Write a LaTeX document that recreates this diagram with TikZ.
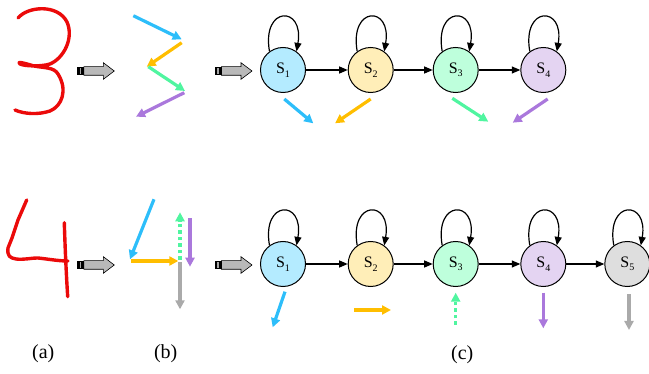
\documentclass[tikz,border=0pt]{standalone}
\usepackage{fontspec}
\setmainfont{Liberation Serif}
\usetikzlibrary{arrows.meta}
\definecolor{ccyan}{RGB}{45,190,250}
\definecolor{corange}{RGB}{255,190,0}
\definecolor{cgreen}{RGB}{80,245,160}
\definecolor{cpurple}{RGB}{170,120,220}
\definecolor{cgray}{RGB}{170,170,170}
\definecolor{fblue}{RGB}{180,235,255}
\definecolor{fyellow}{RGB}{255,238,184}
\definecolor{fgreen}{RGB}{190,255,220}
\definecolor{fpurple}{RGB}{228,212,242}
\definecolor{fgray}{RGB}{222,222,222}
\definecolor{cred}{RGB}{235,10,10}
\newcommand{\sublab}[2]{S\raisebox{-3.5pt}{\fontsize{10}{10}\selectfont #2}}
\tikzset{
  state/.style={circle, draw, line width=1pt, minimum size=45pt, inner sep=0pt, font=\fontsize{16}{16}\selectfont},
  conn/.style={line width=1.2pt, -{Triangle[length=8.5pt,width=7pt]}},
  stroke/.style={line width=3.2pt, -{Triangle[length=9pt,width=9pt]}},
  dotstroke/.style={stroke, dash pattern=on 3.5pt off 3pt},
  digit/.style={cred, line width=3.4pt, line cap=round, line join=round},
  blockarrow/.style={fill=gray!55, draw=black, line width=0.6pt},
  caption/.style={font=\fontsize{20}{20}\selectfont}
}
\newcommand{\blockarr}[2]{%
  \filldraw[blockarrow] (#1+6.5,#2-4.3) -- (#1+26,#2-4.3) -- (#1+26,#2-8.3) -- (#1+37,#2) -- (#1+26,#2+8.3) -- (#1+26,#2+4.3) -- (#1+6.5,#2+4.3) -- cycle;
  \fill[black] (#1,#2-4.3) rectangle (#1+6.5,#2+4.3);
  \fill[gray!70] (#1+2.4,#2-3.3) rectangle (#1+4,#2+3.3);
}
\begin{document}
\begin{tikzpicture}[x=1pt,y=-1pt]
\useasboundingbox (0,0) rectangle (649,374);

% ---------- (a) digits ----------
\draw[digit] (18,18) .. controls (28,6) and (58,4) .. (67,22)
  .. controls (74,38) and (64,58) .. (50,64)
  .. controls (40,67) and (24,66) .. (20,64)
  .. controls (16,61) and (24,63) .. (34,66)
  .. controls (44,68) and (54,67) .. (58,74)
  .. controls (68,90) and (62,106) .. (50,111)
  .. controls (38,115) and (24,114) .. (15,110);
\draw[digit] (26.7,200) -- (18,220) -- (12,238) -- (8,248) .. controls (7,256) and (10,258) .. (16,259)
  .. controls (24,260) and (30,258) .. (38,258) .. controls (48,259) and (58,261) .. (68,261);
\draw[digit] (64.3,222.7) .. controls (65,245) and (66,270) .. (67.7,296.7);

% ---------- block arrows ----------
\blockarr{77.3}{71}
\blockarr{215}{71}
\blockarr{77.3}{265}
\blockarr{215}{265}

% ---------- (b) strokes ----------
\coordinate (b1s) at (133.3,15.7); \coordinate (b1e) at (181.7,39.3);
\coordinate (b2s) at (181.7,42.7); \coordinate (b2e) at (146.7,66.7);
\coordinate (b3s) at (148.3,66.7); \coordinate (b3e) at (185,91);
\coordinate (b4s) at (184.3,92.7); \coordinate (b4e) at (136,116.7);
\draw[stroke, ccyan] (b1s) -- (b1e);
\draw[stroke, corange] (b2s) -- (b2e);
\draw[stroke, cgreen] (b3s) -- (b3e);
\draw[stroke, cpurple] (b4s) -- (b4e);

\coordinate (d1s) at (154,199.3); \coordinate (d1e) at (130,259.3);
\coordinate (d2s) at (131,261); \coordinate (d2e) at (178.3,261);
\coordinate (d3s) at (180,260); \coordinate (d3e) at (180,212.3);
\coordinate (d4s) at (190,218.3); \coordinate (d4e) at (190,266.7);
\coordinate (d5s) at (180,262); \coordinate (d5e) at (180,309.3);
\draw[stroke, cgray] (d5s) -- (d5e);
\draw[stroke, ccyan] (d1s) -- (d1e);
\draw[stroke, corange] (d2s) -- (d2e);
\draw[dotstroke, cgreen] (d3s) -- (d3e);
\draw[stroke, cpurple] (d4s) -- (d4e);

% ---------- (c) top chain ----------
\node[state, fill=fblue]   (t1) at (283,70)    {\sublab{S}{1}};
\node[state, fill=fyellow] (t2) at (370.7,70)  {\sublab{S}{2}};
\node[state, fill=fgreen]  (t3) at (455.7,70)  {\sublab{S}{3}};
\node[state, fill=fpurple] (t4) at (543.3,70)  {\sublab{S}{4}};
\foreach \n in {t1,t2,t3,t4}{
  \draw[conn] (\n.126) .. controls +(-8,-46) and +(8,-46) .. (\n.54);
}
\draw[conn] (t1) -- (t2);
\draw[conn] (t2) -- (t3);
\draw[conn] (t3) -- (t4);

\coordinate (e1s) at (284.3,99);  \coordinate (e1e) at (313.3,123.3);
\coordinate (e2s) at (370.7,99);  \coordinate (e2e) at (335,123.3);
\coordinate (e3s) at (452.3,98.3); \coordinate (e3e) at (488.3,121.7);
\coordinate (e4s) at (547.7,99);  \coordinate (e4e) at (512.7,122.7);
\draw[stroke, ccyan] (e1s) -- (e1e);
\draw[stroke, corange] (e2s) -- (e2e);
\draw[stroke, cgreen] (e3s) -- (e3e);
\draw[stroke, cpurple] (e4s) -- (e4e);

% ---------- (c) bottom chain ----------
\node[state, fill=fblue]   (u1) at (283,264)    {\sublab{S}{1}};
\node[state, fill=fyellow] (u2) at (370.7,264)  {\sublab{S}{2}};
\node[state, fill=fgreen]  (u3) at (455.7,264)  {\sublab{S}{3}};
\node[state, fill=fpurple] (u4) at (543.3,264)  {\sublab{S}{4}};
\node[state, fill=fgray]   (u5) at (627.3,264)  {\sublab{S}{5}};
\foreach \n in {u1,u2,u3,u4,u5}{
  \draw[conn] (\n.126) .. controls +(-8,-46) and +(8,-46) .. (\n.54);
}
\draw[conn] (u1) -- (u2);
\draw[conn] (u2) -- (u3);
\draw[conn] (u3) -- (u4);
\draw[conn] (u4) -- (u5);

\coordinate (f1s) at (285,291.7);  \coordinate (f1e) at (272.7,327.3);
\coordinate (f2s) at (354.3,310);  \coordinate (f2e) at (391,310);
\coordinate (f3s) at (455.7,325);  \coordinate (f3e) at (455.7,292.7);
\coordinate (f4s) at (543.3,292.7); \coordinate (f4e) at (543.3,328.3);
\coordinate (f5s) at (629,294.3);  \coordinate (f5e) at (629,330);
\draw[stroke, ccyan] (f1s) -- (f1e);
\draw[stroke, corange] (f2s) -- (f2e);
\draw[dotstroke, cgreen] (f3s) -- (f3e);
\draw[stroke, cpurple] (f4s) -- (f4e);
\draw[stroke, cgray] (f5s) -- (f5e);

% ---------- captions ----------
\node[caption] (la) at (43.3,354) {(a)};
\node[caption] (lb) at (165.7,354) {(b)};
\node[caption] (lc) at (462.3,355) {(c)};
\end{tikzpicture}
\end{document}
